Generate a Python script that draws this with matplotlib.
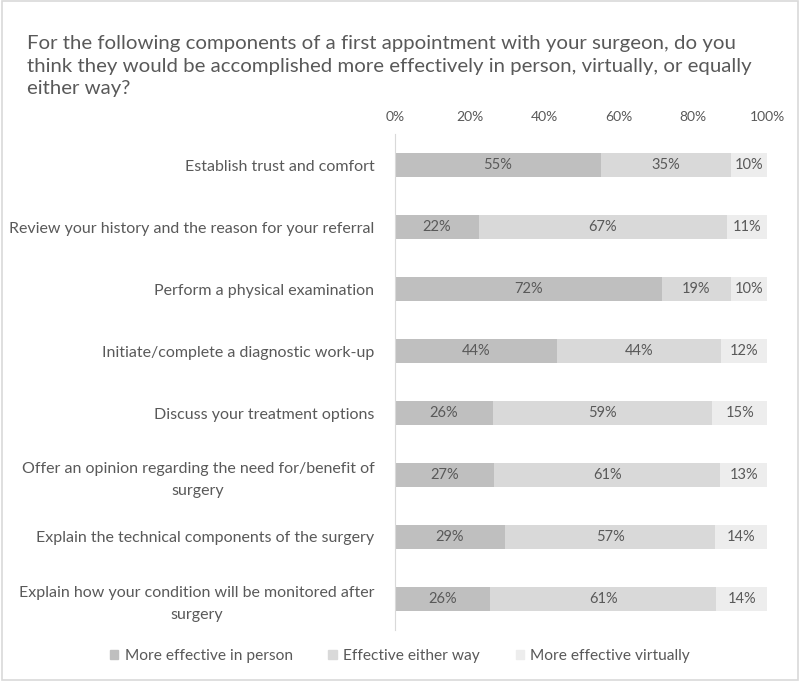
import matplotlib.pyplot as plt
from matplotlib.patches import Rectangle, Patch

plt.rcParams['font.family'] = ['Lato', 'DejaVu Sans']

TEXT = "#595959"

title = ("For the following components of a first appointment with your surgeon, do you\n"
         "think they would be accomplished more effectively in person, virtually, or equally\n"
         "either way?")

components = [
    "Establish trust and comfort",
    "Review your history and the reason for your referral",
    "Perform a physical examination",
    "Initiate/complete a diagnostic work-up",
    "Discuss your treatment options",
    "Offer an opinion regarding the need for/benefit of\nsurgery",
    "Explain the technical components of the surgery",
    "Explain how your condition will be monitored after\nsurgery",
]

in_person = [55.2, 22.4, 71.6, 43.6, 26.2, 26.6, 29.4, 25.6]
either_way = [35.2, 66.7, 18.7, 44.0, 59.0, 60.8, 56.7, 60.7]
virtually = [9.6, 10.9, 9.7, 12.4, 14.8, 12.6, 13.9, 13.7]

series_names = ["More effective in person", "Effective either way", "More effective virtually"]
colors = ["#bfbfbf", "#d9d9d9", "#ededed"]

fig = plt.figure(figsize=(8, 6.81), dpi=100)
ax = fig.add_axes([0.494, 0.075, 0.465, 0.728])

y = list(range(len(components)))
left = [0] * len(components)
for vals, col in zip([in_person, either_way, virtually], colors):
    bars = ax.barh(y, vals, left=left, height=0.39, color=col)
    for b, v in zip(bars, vals):
        ax.text(b.get_x() + b.get_width() / 2, b.get_y() + b.get_height() / 2,
                f"{v:.0f}%", ha='center', va='center', color=TEXT, fontsize=10.5)
    left = [l + v for l, v in zip(left, vals)]

ax.set_xlim(0, 100)
ax.set_ylim(len(components) - 0.5, -0.5)
ax.xaxis.tick_top()
ax.set_xticks([0, 20, 40, 60, 80, 100])
ax.set_xticklabels([f"{t}%" for t in [0, 20, 40, 60, 80, 100]])
ax.tick_params(axis='x', length=0, pad=8, colors=TEXT, labelsize=10)
ax.set_yticks(y)
ax.set_yticklabels(components)
ax.tick_params(axis='y', length=0, pad=15, colors=TEXT, labelsize=11.5)
for lbl in ax.get_yticklabels():
    lbl.set_multialignment('center')
    lbl.set_linespacing(1.7)
for s in ['top', 'right', 'bottom']:
    ax.spines[s].set_visible(False)
ax.spines['left'].set_color("#d9d9d9")

fig.text(0.034, 1 - 35 / 681, title, ha='left', va='top', fontsize=14.7, color=TEXT,
         linespacing=1.4)

handles = [Patch(color=c) for c in colors]
fig.legend(handles, series_names, loc='center', bbox_to_anchor=(0.5, 1 - 656 / 681),
           ncol=3, frameon=False, fontsize=11.2, labelcolor=TEXT,
           handlelength=0.55, handleheight=0.55, handletextpad=0.4, columnspacing=2.3)

fig.patches.append(Rectangle((0.002, 0.002), 0.996, 0.996, transform=fig.transFigure,
                             fill=False, edgecolor="#d9d9d9", linewidth=1.2))

fig.savefig("out.png", dpi=100)
